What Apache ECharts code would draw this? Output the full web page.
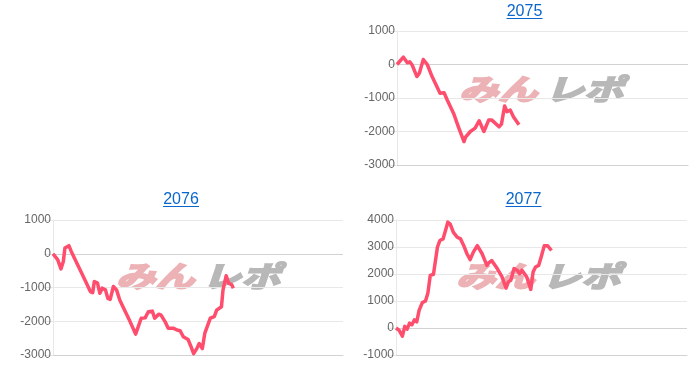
<!DOCTYPE html>
<html>
<head>
<meta charset="utf-8">
<script src="https://cdn.jsdelivr.net/npm/echarts@6/dist/echarts.min.js"></script>
<style>
  html, body { margin: 0; padding: 0; background: #fff; }
  #chart { width: 700px; height: 370px; }
</style>
</head>
<body>
<div id="chart"></div>
<script>
// ---- data (x = day of the year, y = cumulative balance) ----
const titles = ['2075', '2076', '2077'];

const days2075 = [0, 8, 13, 16, 19, 25, 28, 33, 38, 44, 54, 59, 63, 71, 77, 84, 86, 92, 98, 103, 109, 115, 119, 128, 131, 135, 138, 142, 146, 153];
const values2075 = [0, 220, 50, 80, -15, -360, -260, 150, 0, -360, -860, -840, -1060, -1460, -1860, -2300, -2170, -2000, -1900, -1680, -2000, -1660, -1660, -1860, -1780, -1240, -1410, -1360, -1560, -1800];

const days2076 = [0, 6, 10, 13, 15, 20, 23, 29, 36, 42, 47, 50, 52, 56, 59, 62, 66, 69, 72, 76, 80, 84, 90, 97, 104, 107, 111, 116, 120, 125, 128, 133, 136, 141, 145, 152, 156, 160, 164, 170, 173, 177, 181, 184, 188, 191, 198, 203, 206, 212, 214, 218, 221, 225, 227];
const values2076 = [0, -180, -450, -230, 170, 240, 70, -230, -570, -870, -1120, -1150, -820, -870, -1170, -1020, -1070, -1320, -1350, -970, -1070, -1370, -1670, -2010, -2380, -2180, -1910, -1900, -1720, -1700, -1910, -1790, -1820, -2010, -2210, -2210, -2260, -2280, -2460, -2540, -2710, -2960, -2810, -2660, -2810, -2360, -1910, -1860, -1670, -1570, -1070, -650, -870, -920, -1020];

const days2077 = [0, 4, 8, 11, 14, 17, 20, 23, 26, 29, 33, 37, 40, 43, 47, 49, 52, 55, 59, 62, 65, 68, 72, 77, 81, 85, 89, 93, 97, 102, 108, 114, 116, 120, 127, 133, 138, 141, 144, 148, 152, 155, 158, 164, 169, 172, 175, 179, 182, 186, 190, 195];
const values2077 = [0, -90, -300, 60, -40, 180, 120, 300, 230, 650, 940, 1000, 1300, 1950, 1990, 2000, 3000, 3240, 3300, 3600, 3920, 3850, 3540, 3360, 3300, 3050, 2750, 2530, 2810, 3050, 2750, 2320, 2400, 2500, 2200, 1890, 1480, 1710, 1770, 2200, 2140, 2010, 2140, 1890, 1430, 2070, 2260, 2320, 2620, 3050, 3050, 2870];

const yRanges = [[-3000, 1000], [-3000, 1000], [-1000, 4000]];
const yInterval = 1000;
const daysInYear = 365;

// ---- layout / style ----
const grids = [
  { left: 397, top: 31, width: 291, height: 134 },
  { left: 53, top: 220, width: 290, height: 135 },
  { left: 396, top: 220, width: 291, height: 135 }
];
const titlePos = [
  { cx: 524.5, top: 4 },
  { cx: 181, top: 192 },
  { cx: 523.5, top: 192 }
];
const watermarkPos = [
  { x: 459, y: 74 },
  { x: 116, y: 261 },
  { x: 456, y: 261 }
];
const lineColor = '#ff4d6d';
const titleColor = '#0b66cc';
const gridColor = '#e8e8e8';
const zeroColor = '#d2d2d2';
const labelFont = 'Liberation Sans, Arial, sans-serif';

const seriesDays = [days2075, days2076, days2077];
const seriesValues = [values2075, values2076, values2077];

function zip(xs, ys) { return xs.map((x, i) => [x, ys[i]]); }

const option = {
  animation: false,
  backgroundColor: '#fff',
  title: titles.map((t, i) => ({
    text: t,
    left: titlePos[i].cx,
    top: titlePos[i].top,
    textAlign: 'center',
    padding: 0,
    textStyle: { color: titleColor, fontSize: 16, fontWeight: 'normal', fontFamily: labelFont }
  })),
  grid: grids.map(g => Object.assign({ containLabel: false }, g)),
  xAxis: grids.map((g, i) => ({
    type: 'value', gridIndex: i, min: 0, max: daysInYear,
    axisLine: { onZero: false, lineStyle: { color: zeroColor, width: 1 } },
    axisTick: { show: false }, axisLabel: { show: false }, splitLine: { show: false }
  })),
  yAxis: grids.map((g, i) => {
    const [mn, mx] = yRanges[i];
    const colors = [];
    for (let v = mn; v <= mx; v += yInterval) colors.push(v === 0 ? zeroColor : gridColor);
    return {
      type: 'value', gridIndex: i, min: mn, max: mx, interval: yInterval,
      axisLine: { show: true, lineStyle: { color: gridColor } },
      axisTick: { show: true, length: 9, lineStyle: { color: gridColor } },
      axisLabel: { margin: 2, color: '#666', fontSize: 12, fontFamily: labelFont,
                   formatter: v => String(v) },
      splitLine: { show: true, lineStyle: { color: colors, width: 1 } }
    };
  }),
  series: seriesDays.map((d, i) => ({
    type: 'line', xAxisIndex: i, yAxisIndex: i,
    data: zip(d, seriesValues[i]),
    showSymbol: false, symbol: 'none',
    lineStyle: { color: lineColor, width: 3.5, join: 'round' },
    z: 5
  })),
  graphic: [].concat(
    titles.map((t, i) => ({
      type: 'rect', z: 10,
      shape: { x: titlePos[i].cx - 18, y: titlePos[i].top + 14, width: 36, height: 1 },
      style: { fill: titleColor }
    })),
    watermarkPos.map(p => ({
      type: 'group', x: p.x, y: p.y, z: 0, silent: true,
      children: [
        { type: 'text', x: 0, y: 0, scaleX: 1.35,
          style: { text: 'みん', fill: '#ecb2b5', stroke: '#ecb2b5', lineWidth: 2,
                   font: 'italic bold 29px "Noto Sans CJK JP"' } },
        { type: 'text', x: 86, y: 0, scaleX: 1.35,
          style: { text: 'レポ', fill: '#b8b8b8', stroke: '#b8b8b8', lineWidth: 2,
                   font: 'italic bold 29px "Noto Sans CJK JP"' } }
      ]
    }))
  )
};

const chart = echarts.init(document.getElementById('chart'), null, { renderer: 'canvas' });
chart.setOption(option);
</script>
</body>
</html>
